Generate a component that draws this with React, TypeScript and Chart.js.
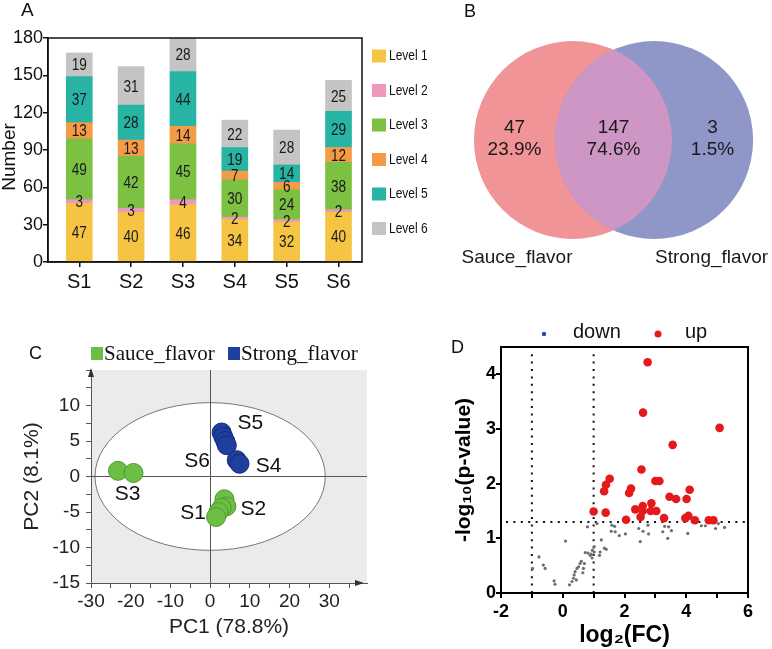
import React, { useEffect, useRef } from 'react';
import { Chart, registerables } from 'chart.js';

Chart.register(...registerables);

// ---------------- Panel A data ----------------
const samples = ['S1', 'S2', 'S3', 'S4', 'S5', 'S6'];
const levelNames = ['Level 1', 'Level 2', 'Level 3', 'Level 4', 'Level 5', 'Level 6'];
const level1 = [47, 40, 46, 34, 32, 40];
const level2 = [3, 3, 4, 2, 2, 2];
const level3 = [49, 42, 45, 30, 24, 38];
const level4 = [13, 13, 14, 7, 6, 12];
const level5 = [37, 28, 44, 19, 14, 29];
const level6 = [19, 31, 28, 22, 28, 25];
const levelColors = ['#F5C443', '#EF98BE', '#7CC142', '#F59A46', '#28B4A5', '#C4C4C4'];

// ---------------- Panel B data ----------------
const vennSets = ['Sauce_flavor', 'Strong_flavor'];
const vennCounts = [47, 147, 3];
const vennPercents = ['23.9%', '74.6%', '1.5%'];

// ---------------- Panel C data ----------------
const pcaGroups = ['Sauce_flavor', 'Strong_flavor'];
const sauceX = [-23.2, -19.3, 3.6, 4.1, 2.9, 2.1, 1.5];
const sauceY = [0.8, 0.5, -3.2, -4.2, -4.4, -5.0, -5.7];
const strongX = [2.9, 3.3, 3.8, 4.2, 6.7, 7.4];
const strongY = [6.2, 5.6, 5.0, 4.4, 2.3, 1.8];
const sampleTagNames = ['S1', 'S2', 'S3', 'S4', 'S5', 'S6'];
const sampleTagX = [-4.3, 10.9, -20.8, 14.7, 10.1, -3.3];
const sampleTagY = [-5.2, -4.6, -2.5, 1.5, 7.5, 2.2];
const ellipsePC1 = 29;
const ellipsePC2 = 10.4;

// ---------------- Panel D data ----------------
const upFC = [2.75, 2.60, 5.08, 3.56, 2.55, 1.52, 1.40, 1.34, 2.21, 2.15, 3.00, 3.13, 4.11, 3.46, 3.67, 4.01,
  2.87, 2.59, 2.35, 2.59, 2.52, 2.85, 3.03, 1.00, 1.39, 2.05, 3.28, 3.97, 4.07, 4.28, 4.73, 4.88];
const upP = [4.22, 3.30, 3.02, 2.71, 2.26, 2.09, 1.98, 1.86, 1.91, 1.83, 2.05, 2.05, 1.89, 1.76, 1.72, 1.72,
  1.64, 1.59, 1.53, 1.50, 1.39, 1.50, 1.50, 1.49, 1.47, 1.34, 1.37, 1.37, 1.41, 1.33, 1.33, 1.33];
const nsFC = [-0.98, -0.77, -0.63, -0.57, -0.28, -0.25, 0.09, 0.22, 0.30, 0.35, 0.37, 0.40, 0.44, 0.46, 0.51,
  0.56, 0.60, 0.65, 0.67, 0.70, 0.73, 0.82, 0.89, 0.95, 0.92, 1.02, 0.96, 1.02, 0.80, 1.11, 1.19, 1.21, 1.25,
  1.35, 1.41, 1.57, 1.59, 1.68, 1.70, 1.83, 2.03, 2.46, 2.51, 2.60, 2.76, 2.78, 3.24, 3.30, 3.40, 3.43, 3.52,
  4.05, 4.49, 4.62, 4.95, 5.04, 5.24];
const nsP = [0.45, 0.66, 0.51, 0.45, 0.22, 0.16, 0.95, 0.15, 0.21, 0.27, 0.33, 0.39, 0.24, 0.45, 0.48,
  0.54, 0.58, 0.37, 0.45, 0.54, 0.74, 0.73, 0.69, 0.64, 0.71, 0.75, 0.78, 0.85, 1.21, 1.27, 0.69, 0.75, 0.97,
  0.82, 0.80, 1.13, 1.24, 1.22, 1.12, 1.05, 1.08, 1.18, 0.94, 1.13, 1.24, 1.08, 1.12, 1.22, 1.00, 1.21, 1.14,
  1.09, 1.23, 1.23, 1.18, 1.27, 1.20];
const downFC: number[] = [];
const downP: number[] = [];
const fcCut = 1;
const pCut = 1.3;

// ---------------- styling ----------------
const SANS = '"Liberation Sans", Arial, Helvetica, sans-serif';
const SERIF = '"Liberation Serif", "Times New Roman", serif';

const letter = (text: string, x: number, y: number, size = 18) => ({
  id: 'letter' + text,
  afterDraw(chart: any) {
    const c = chart.ctx;
    c.save();
    c.font = `${size}px ${SANS}`;
    c.fillStyle = '#111';
    c.textAlign = 'left';
    c.textBaseline = 'middle';
    c.fillText(text, x, y);
    c.restore();
  },
});

const frame = (w: number, color = '#111') => ({
  id: 'frame',
  afterDatasetsDraw(chart: any) {
    const a = chart.chartArea;
    const c = chart.ctx;
    c.save();
    c.strokeStyle = color;
    c.lineWidth = w;
    c.strokeRect(a.left, a.top, a.right - a.left, a.bottom - a.top);
    c.restore();
  },
});

// condensed text helper (horizontal squeeze like the original narrow face)
const narrowText = (c: any, text: string, x: number, y: number, squeeze: number) => {
  c.save();
  c.translate(x, y);
  c.scale(squeeze, 1);
  c.fillText(text, 0, 0);
  c.restore();
};

// ---------------- Panel A ----------------
function makeA(): any {
  const series = [level1, level2, level3, level4, level5, level6];
  const datasets = series.map((d, i) => ({
    label: levelNames[i],
    data: d.map((v, k) => ({ x: k, y: v })),
    backgroundColor: levelColors[i],
    borderWidth: 0,
    barThickness: 26,
  }));
  const segLabels = {
    id: 'segLabels',
    afterDatasetsDraw(chart: any) {
      const c = chart.ctx;
      const area = chart.chartArea;
      c.save();
      c.font = `17px ${SANS}`;
      c.fillStyle = '#1a1a1a';
      c.textAlign = 'center';
      c.textBaseline = 'middle';
      chart.data.datasets.forEach((ds: any, di: number) => {
        const meta = chart.getDatasetMeta(di);
        meta.data.forEach((el: any, i: number) => {
          const top = Math.max(el.y, area.top);
          narrowText(c, String(ds.data[i].y), el.x, (top + el.base) / 2 + 1, 0.8);
        });
      });
      c.restore();
    },
  };
  const legendA = {
    id: 'legendA',
    afterDraw(chart: any) {
      const c = chart.ctx;
      const a = chart.chartArea;
      c.save();
      c.font = `15px ${SANS}`;
      c.textBaseline = 'middle';
      c.textAlign = 'left';
      chart.data.datasets.forEach((ds: any, i: number) => {
        const cy = a.top + 18 + i * 34.5;
        c.fillStyle = ds.backgroundColor;
        c.fillRect(a.right + 10, cy - 6.5, 14, 13);
        c.fillStyle = '#111';
        narrowText(c, ds.label, a.right + 27, cy, 0.8);
      });
      // y-axis title
      c.font = `19px ${SANS}`;
      c.textAlign = 'center';
      c.translate(10, 157);
      c.rotate(-Math.PI / 2);
      c.fillText('Number', 0, 0);
      c.restore();
    },
  };
  const axisLine = { display: true, color: '#111', width: 1.5 };
  const grid = { display: true, drawOnChartArea: false, drawTicks: true, tickLength: 5, color: '#111', lineWidth: 1.5, offset: false };
  return {
    type: 'bar',
    data: { datasets },
    options: {
      responsive: false,
      animation: false,
      devicePixelRatio: 1,
      events: [],
      layout: { padding: { left: 0, top: 38, right: 78, bottom: 0 } },
      plugins: { legend: { display: false }, tooltip: { enabled: false } },
      scales: {
        x: {
          type: 'linear',
          stacked: true,
          offset: false,
          min: -0.603,
          max: 5.453,
          grid,
          border: axisLine,
          ticks: {
            stepSize: 1, includeBounds: false, autoSkip: false, maxRotation: 0,
            callback: (v: any) => (samples[v] !== undefined ? samples[v] : ''),
            font: { family: SANS, size: 20 }, color: '#111', padding: 3,
          },
          afterFit: (s: any) => { s.height = 38; },
        },
        y: {
          stacked: true,
          min: 0,
          max: 180,
          grid,
          border: axisLine,
          ticks: { stepSize: 30, font: { family: SANS, size: 18 }, color: '#111', padding: 0 },
          afterFit: (s: any) => { s.width = 48; },
        },
      },
    },
    plugins: [segLabels, frame(1.5), legendA, letter('A', 21, 11, 19)],
  };
}

// ---------------- Panel B ----------------
const vennCenters = [-0.41, 0.41];
function makeB(): any {
  const radius = (ctx: any) => {
    const s = ctx.chart.scales.x;
    return s.getPixelForValue(1) - s.getPixelForValue(0);
  };
  const overlap = {
    id: 'overlap',
    afterDatasetsDraw(chart: any) {
      const c = chart.ctx;
      const pts = chart.getDatasetMeta(0).data;
      const sx = chart.scales.x;
      const sy = chart.scales.y;
      const r = sx.getPixelForValue(1) - sx.getPixelForValue(0);
      c.save();
      c.beginPath();
      c.arc(pts[0].x, pts[0].y, r, 0, Math.PI * 2);
      c.clip();
      c.beginPath();
      c.arc(pts[1].x, pts[1].y, r, 0, Math.PI * 2);
      c.fillStyle = '#CE96C5';
      c.fill();
      c.restore();
      c.save();
      c.fillStyle = '#1a1a1a';
      c.textAlign = 'center';
      c.textBaseline = 'middle';
      c.font = `19px ${SANS}`;
      const textX = [-1.0, 0.0, 1.0];
      vennCounts.forEach((n, i) => {
        const px = sx.getPixelForValue(textX[i]);
        const py = sy.getPixelForValue(0);
        c.fillText(String(n), px, py - 12);
        c.fillText(vennPercents[i], px, py + 10);
      });
      const nameX = [-0.975, 0.99];
      vennSets.forEach((name, i) => {
        c.fillText(name, sx.getPixelForValue(nameX[i]), sy.getPixelForValue(-1.19));
      });
      c.restore();
    },
  };
  return {
    type: 'scatter',
    data: {
      datasets: [{
        label: 'sets',
        data: vennCenters.map((x) => ({ x, y: 0 })),
        backgroundColor: ['#F09497', '#8F96C8'],
        borderWidth: 0,
        pointRadius: radius,
        pointHoverRadius: radius,
      }],
    },
    options: {
      responsive: false,
      animation: false,
      devicePixelRatio: 1,
      events: [],
      layout: { padding: 0 },
      plugins: { legend: { display: false }, tooltip: { enabled: false } },
      scales: {
        x: { display: false, min: -1.753, max: 1.601 },
        y: { display: false, min: -1.616, max: 1.414 },
      },
    },
    plugins: [overlap, letter('B', 24, 12, 18)],
  };
}

// ---------------- Panel C ----------------
function makeC(): any {
  const bg = {
    id: 'bgEllipse',
    beforeDraw(chart: any) {
      const c = chart.ctx;
      const a = chart.chartArea;
      const sx = chart.scales.x;
      const sy = chart.scales.y;
      c.save();
      c.fillStyle = '#EBEBEB';
      c.fillRect(a.left, a.top, a.right - a.left, a.bottom - a.top);
      const cx = sx.getPixelForValue(0);
      const cy = sy.getPixelForValue(0);
      const rx = sx.getPixelForValue(ellipsePC1) - cx;
      const ry = cy - sy.getPixelForValue(ellipsePC2);
      c.beginPath();
      c.ellipse(cx, cy, rx, ry, 0, 0, Math.PI * 2);
      c.fillStyle = '#FFFFFF';
      c.fill();
      c.strokeStyle = '#777';
      c.lineWidth = 1;
      c.stroke();
      c.restore();
    },
  };
  const extras = {
    id: 'pcaExtras',
    afterDraw(chart: any) {
      const c = chart.ctx;
      const a = chart.chartArea;
      const sx = chart.scales.x;
      const sy = chart.scales.y;
      c.save();
      c.fillStyle = '#333';
      c.beginPath();
      c.moveTo(a.left, a.top - 2);
      c.lineTo(a.left - 3, a.top + 7);
      c.lineTo(a.left + 3, a.top + 7);
      c.closePath();
      c.fill();
      c.beginPath();
      c.moveTo(a.right - 3, a.bottom);
      c.lineTo(a.right - 12, a.bottom - 3);
      c.lineTo(a.right - 12, a.bottom + 3);
      c.closePath();
      c.fill();
      c.fillStyle = '#111';
      c.font = `21px ${SANS}`;
      c.textAlign = 'center';
      c.textBaseline = 'middle';
      sampleTagNames.forEach((t, i) => {
        c.fillText(t, sx.getPixelForValue(sampleTagX[i]), sy.getPixelForValue(sampleTagY[i]));
      });
      c.font = `21px ${SERIF}`;
      c.textAlign = 'left';
      c.textBaseline = 'alphabetic';
      const cols = ['#6DBE45', '#1F3F9F'];
      const boxX = [91, 228];
      pcaGroups.forEach((g, i) => {
        c.fillStyle = cols[i];
        c.fillRect(boxX[i], 47, 12, 13);
        c.fillStyle = '#111';
        c.fillText(g, boxX[i] + 13, 60);
      });
      c.restore();
    },
  };
  const gridC = {
    color: (ctx: any) => (ctx.tick && ctx.tick.value === 0 ? '#555' : 'rgba(0,0,0,0)'),
    tickColor: '#555',
    tickLength: 5,
    lineWidth: 1,
  };
  return {
    type: 'scatter',
    data: {
      datasets: [
        {
          label: pcaGroups[0],
          data: sauceX.map((x, i) => ({ x, y: sauceY[i] })),
          backgroundColor: '#6DBE45',
          borderColor: '#4E9A2F',
          borderWidth: 1,
          pointRadius: 9.5,
        },
        {
          label: pcaGroups[1],
          data: strongX.map((x, i) => ({ x, y: strongY[i] })),
          backgroundColor: '#1F3F9F',
          borderColor: '#142D7A',
          borderWidth: 1,
          pointRadius: 9.5,
        },
      ],
    },
    options: {
      responsive: false,
      animation: false,
      devicePixelRatio: 1,
      events: [],
      layout: { padding: { left: 20, top: 70, right: 19, bottom: 9 } },
      plugins: { legend: { display: false }, tooltip: { enabled: false } },
      scales: {
        x: {
          type: 'linear',
          min: -30,
          max: 39.5,
          ticks: {
            stepSize: 5, includeBounds: false, autoSkip: false, maxRotation: 0,
            callback: (v: any) => (v % 10 === 0 && v <= 30 ? String(v) : ''),
            font: { family: SANS, size: 19 }, color: '#222', padding: 2,
          },
          grid: gridC,
          border: { display: true, color: '#555', width: 1 },
          title: { display: true, text: 'PC1 (78.8%)', font: { family: SANS, size: 21 }, color: '#222', padding: 0 },
          afterFit: (s: any) => { s.height = 57; },
        },
        y: {
          type: 'linear',
          min: -15,
          max: 15,
          ticks: {
            stepSize: 2.5, includeBounds: false, autoSkip: false,
            callback: (v: any) => (v % 5 === 0 && v <= 10 ? String(v) : ''),
            font: { family: SANS, size: 19 }, color: '#222', padding: 6,
          },
          grid: gridC,
          border: { display: true, color: '#555', width: 1 },
          title: { display: true, text: 'PC2 (8.1%)', font: { family: SANS, size: 21 }, color: '#222', padding: 0 },
          afterFit: (s: any) => { s.width = 71; },
        },
      },
    },
    plugins: [bg, extras, letter('C', 29, 54, 18)],
  };
}

// ---------------- Panel D ----------------
function makeD(): any {
  const thresholds = {
    id: 'thresholds',
    beforeDatasetsDraw(chart: any) {
      const c = chart.ctx;
      const a = chart.chartArea;
      const sx = chart.scales.x;
      const sy = chart.scales.y;
      c.save();
      c.strokeStyle = '#111';
      c.lineWidth = 2;
      c.setLineDash([2, 5.4]);
      [-fcCut, fcCut].forEach((v) => {
        const x = sx.getPixelForValue(v);
        c.beginPath();
        c.moveTo(x, a.bottom);
        c.lineTo(x, a.top + 4);
        c.stroke();
      });
      const y = sy.getPixelForValue(pCut);
      c.beginPath();
      c.moveTo(a.left + 5, y);
      c.lineTo(a.right, y);
      c.stroke();
      c.restore();
    },
  };
  const legendD = {
    id: 'legendD',
    afterDraw(chart: any) {
      const c = chart.ctx;
      c.save();
      c.font = `20px ${SANS}`;
      c.textBaseline = 'middle';
      c.textAlign = 'left';
      const items = [
        { ds: chart.data.datasets[0], dx: 158, tx: 187, r: 2.2 },
        { ds: chart.data.datasets[1], dx: 272, tx: 299, r: 3.5 },
      ];
      items.forEach((it) => {
        c.fillStyle = it.ds.backgroundColor;
        c.beginPath();
        c.arc(it.dx, 34, it.r, 0, Math.PI * 2);
        c.fill();
        c.fillStyle = '#111';
        c.fillText(it.ds.label, it.tx, 32);
      });
      c.restore();
    },
  };
  const gridD = { display: true, drawOnChartArea: false, drawTicks: true, tickLength: 5, color: '#000', lineWidth: 2 };
  const bold = { family: SANS, size: 18, weight: 'bold' };
  return {
    type: 'scatter',
    data: {
      datasets: [
        {
          label: 'down',
          data: downFC.map((x, i) => ({ x, y: downP[i] })),
          backgroundColor: '#1F4AA8',
          borderWidth: 0,
          pointRadius: 4.3,
        },
        {
          label: 'up',
          data: upFC.map((x, i) => ({ x, y: upP[i] })),
          backgroundColor: '#E3191C',
          borderWidth: 0,
          pointRadius: 4.3,
        },
        {
          label: 'ns',
          data: nsFC.map((x, i) => ({ x, y: nsP[i] })),
          backgroundColor: '#6E6E6E',
          borderWidth: 0,
          pointRadius: 1.6,
          order: 5,
        },
      ],
    },
    options: {
      responsive: false,
      animation: false,
      devicePixelRatio: 1,
      events: [],
      layout: { padding: { left: 66, top: 47, right: 24, bottom: 0 } },
      plugins: { legend: { display: false }, tooltip: { enabled: false } },
      scales: {
        x: {
          type: 'linear',
          min: -2,
          max: 6,
          ticks: {
            stepSize: 1, autoSkip: false, maxRotation: 0,
            callback: (v: any) => (v % 2 === 0 ? String(v) : ''),
            font: bold, color: '#000', padding: 3,
          },
          grid: gridD,
          border: { display: true, color: '#000', width: 2 },
          title: { display: true, text: 'log₂(FC)', font: { family: SANS, size: 23, weight: 'bold' }, color: '#000', padding: 0 },
          afterFit: (s: any) => { s.height = 56; },
        },
        y: {
          type: 'linear',
          min: 0,
          max: 4.5,
          ticks: { stepSize: 1, includeBounds: false, autoSkip: false, font: bold, color: '#000', padding: 0 },
          grid: gridD,
          border: { display: true, color: '#000', width: 2 },
          title: { display: true, text: '-log₁₀(p-value)', font: { family: SANS, size: 21, weight: 'bold' }, color: '#000', padding: 0 },
          afterFit: (s: any) => { s.width = 49; },
        },
      },
    },
    plugins: [thresholds, frame(2, '#000'), legendD, letter('D', 65, 48, 18)],
  };
}

function ChartBox({ make, left, top, width, height }: { make: () => any; left: number; top: number; width: number; height: number }) {
  const ref = useRef<HTMLCanvasElement>(null);
  useEffect(() => {
    const chart = new Chart(ref.current as HTMLCanvasElement, make());
    return () => chart.destroy();
  }, [make]);
  return (
    <canvas
      ref={ref}
      width={width}
      height={height}
      style={{ position: 'absolute', left, top, width, height }}
    />
  );
}

export default function App() {
  return (
    <div style={{ position: 'absolute', left: 0, top: 0, width: 772, height: 649, background: '#fff', overflow: 'hidden' }}>
      <ChartBox make={makeA} left={0} top={0} width={440} height={300} />
      <ChartBox make={makeB} left={440} top={0} width={332} height={300} />
      <ChartBox make={makeC} left={0} top={300} width={386} height={349} />
      <ChartBox make={makeD} left={386} top={300} width={386} height={349} />
    </div>
  );
}
